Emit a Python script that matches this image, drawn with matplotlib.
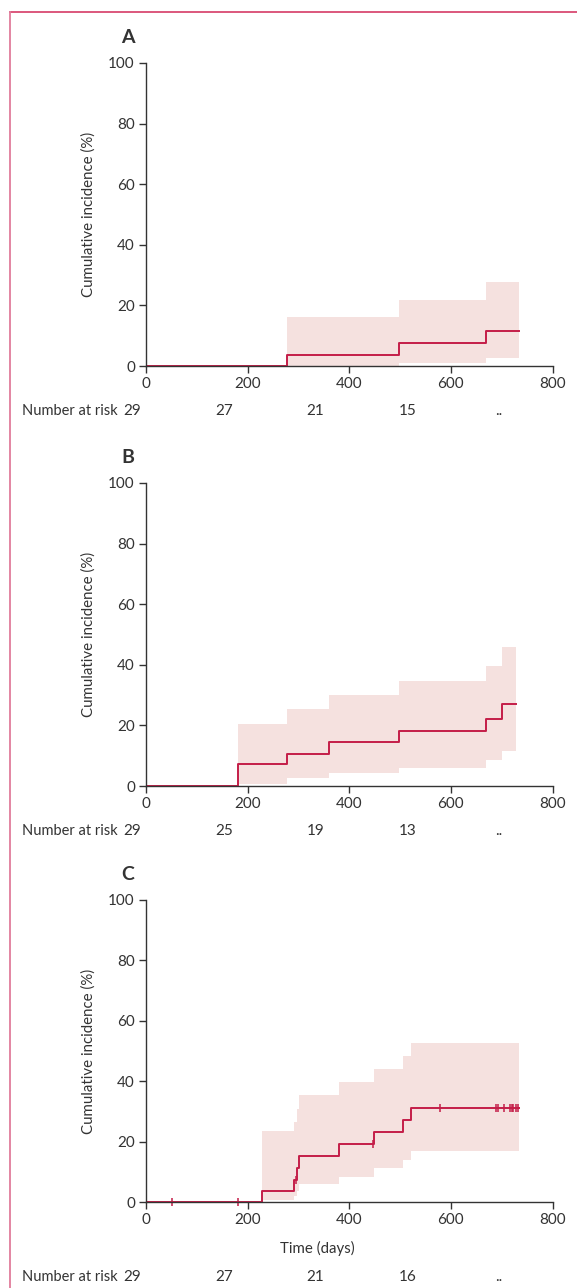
import numpy as np
import matplotlib.pyplot as plt
from matplotlib.lines import Line2D

plt.rcParams['font.family'] = ['Lato', 'DejaVu Sans']

# -----------------------------------
# Data
# -----------------------------------
panels = ["A", "B", "C"]

a_times = [0, 278, 497, 669]
a_vals = [0, 3.7, 7.7, 11.7]
a_lower = [0, 0, 1.1, 2.6]
a_upper = [0, 16.2, 21.9, 27.7]
a_end = 735

b_times = [0, 181, 278, 360, 497, 670, 701]
b_vals = [0, 7.1, 10.6, 14.4, 18.1, 22.1, 27.2]
b_lower = [0, 0.8, 2.5, 4.2, 6.1, 8.5, 11.5]
b_upper = [0, 20.4, 25.3, 29.9, 34.6, 39.6, 46.0]
b_end = 728

c_times = [0, 228, 291, 298, 301, 380, 448, 506, 522]
c_vals = [0, 3.7, 7.4, 11.2, 15.2, 19.2, 23.1, 27.2, 31.2]
c_lower = [0, 0.6, 2.0, 3.5, 6.0, 8.4, 11.1, 13.9, 16.9]
c_upper = [0, 23.5, 26.4, 30.8, 35.4, 39.8, 44.2, 48.5, 52.7]
c_end = 735
c_censor = [51, 181, 295, 446, 579, 688, 692, 704, 717, 720, 723, 728, 733]

risk_times = [0, 200, 400, 600, 800]
a_risk = ["29", "27", "21", "15", ".."]
b_risk = ["29", "25", "19", "13", ".."]
c_risk = ["29", "27", "21", "16", ".."]

xticks = [0, 200, 400, 600, 800]
yticks = [0, 20, 40, 60, 80, 100]

LINE = "#c41d48"
FILL = "#f5e1df"
TXT = "#333333"

W, H = 577, 1288
fig = plt.figure(figsize=(W / 100, H / 100), dpi=100)


def frac_box(left, top, right, bottom):
    return [left / W, 1 - bottom / H, (right - left) / W, (bottom - top) / H]


def draw_panel(ax, label, times, vals, lower, upper, end, risk, censor=None,
               risk_gap=45, xlabel=None):
    t = np.array(times + [end])
    v = np.array(vals + [vals[-1]])
    lo = np.array(lower + [lower[-1]])
    hi = np.array(upper + [upper[-1]])

    ax.fill_between(t, lo, hi, step="post", color=FILL, lw=0)
    ax.step(t, v, where="post", color=LINE, lw=1.4)

    if censor is not None:
        idx = np.searchsorted(times, censor, side="right") - 1
        cy = np.array(vals)[idx]
        ax.plot(censor, cy, ls="none", marker="|", ms=6, mew=1.1, color=LINE,
                clip_on=False)

    ax.set_xlim(0, 800)
    ax.set_ylim(0, 100)
    ax.set_xticks(xticks)
    ax.set_yticks(yticks)
    for s in ["top", "right"]:
        ax.spines[s].set_visible(False)
    for s in ["left", "bottom"]:
        ax.spines[s].set_color(TXT)
        ax.spines[s].set_linewidth(1.0)
    ax.tick_params(direction="out", length=5, width=1.0, colors=TXT,
                   labelsize=11, pad=3)
    ax.set_ylabel("Cumulative incidence (%)", fontsize=10.8, color=TXT,
                  labelpad=9)
    ax.text(-0.045, 1.085, label, transform=ax.transAxes, fontsize=14,
            fontweight="bold", color=TXT, ha="center", va="center")

    # risk table, rows are a bit compressed relative to the axis
    trans = ax.transAxes
    pos = ax.get_position()
    y_ax = -risk_gap / (pos.height * H)
    for rt, r in zip(risk_times, risk):
        xa = (-14 + rt * 0.459) / (pos.width * W)
        ax.text(xa, y_ax, r, transform=trans, ha="center", va="center",
                fontsize=11, color=TXT)
    ax.text((22 - pos.x0 * W) / (pos.width * W), y_ax, "Number at risk",
            transform=trans, ha="left", va="center", fontsize=10.5, color=TXT)
    if xlabel:
        ax.text((317 - pos.x0 * W) / (pos.width * W), -46 / (pos.height * H),
                xlabel, transform=trans, ha="center", va="center",
                fontsize=10.8, color=TXT)


ax_a = fig.add_axes(frac_box(146, 63, 552.5, 366))
ax_b = fig.add_axes(frac_box(146, 483, 552.5, 786))
ax_c = fig.add_axes(frac_box(146, 900, 552.5, 1202))

draw_panel(ax_a, panels[0], a_times, a_vals, a_lower, a_upper, a_end, a_risk)
draw_panel(ax_b, panels[1], b_times, b_vals, b_lower, b_upper, b_end, b_risk)
draw_panel(ax_c, panels[2], c_times, c_vals, c_lower, c_upper, c_end, c_risk,
           censor=c_censor, risk_gap=75, xlabel="Time (days)")

# pink frame at top and left
fig.add_artist(Line2D([10 / W, 1], [1 - 12 / H, 1 - 12 / H],
                      transform=fig.transFigure, color="#d94a72", lw=1.3))
fig.add_artist(Line2D([10 / W, 10 / W], [0, 1 - 12 / H],
                      transform=fig.transFigure, color="#e07c9b", lw=1.3))

fig.savefig("out.png", dpi=100)
